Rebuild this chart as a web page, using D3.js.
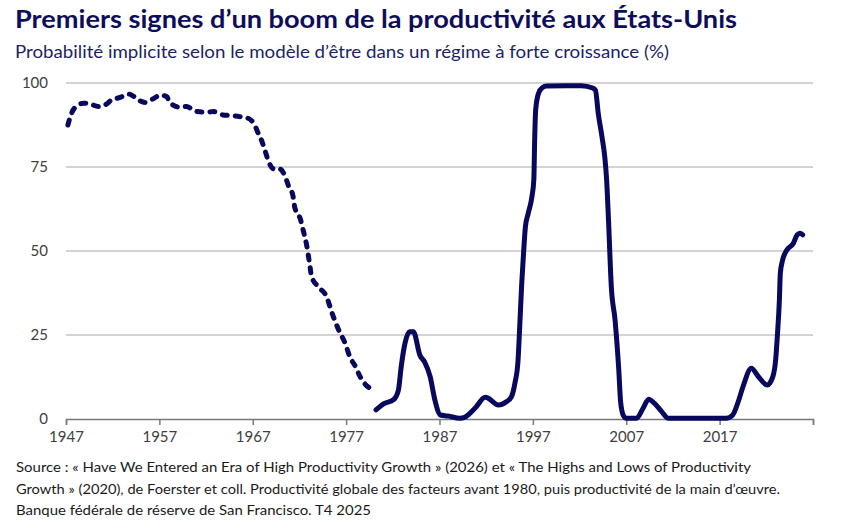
<!DOCTYPE html>
<html>
<head>
<meta charset="utf-8">
<script src="https://cdn.jsdelivr.net/npm/d3@7"></script>
<style>
  body { margin: 0; background: #fff; }
  svg { display: block; font-family: Lato, "Open Sans", sans-serif; }
</style>
</head>
<body>
<svg id="chart" width="844" height="531"></svg>
<script>
// Fractional year, probability (%)
var dashYears = [1947.2, 1947.6, 1947.9, 1948.9, 1949.6, 1950.5, 1951.2, 1951.9, 1952.8, 1953.7,
    1954.2, 1954.9, 1955.5, 1956.4, 1957.1, 1957.8, 1958.1, 1959.2, 1959.9, 1961.0,
    1962.1, 1962.8, 1963.8, 1964.7, 1965.6, 1966.5, 1967.1, 1967.6, 1968.0, 1968.3,
    1968.7, 1969.2, 1969.9, 1970.5, 1970.8, 1971.3, 1971.5, 1972.1, 1972.4, 1972.8,
    1973.1, 1973.3, 1974.0, 1974.9, 1975.5, 1976.2, 1976.9, 1977.4, 1978.0, 1978.5,
    1979.0, 1979.6];
var dashValues = [87.5, 91, 92.5, 94, 93.7, 93, 93.5, 95, 95.7, 96.7,
    96.1, 94.7, 94.2, 95.4, 96.4, 95.9, 94.2, 92.8, 93, 91.5,
    91.3, 91.5, 90.5, 90.3, 90, 89.5, 88, 85, 82.5, 80,
    76.6, 74.5, 74.4, 72, 69.6, 66.5, 63, 59.5, 56.2, 51.3,
    46, 42.4, 39.4, 36.4, 31.5, 26.5, 22.5, 18.5, 15.6, 12.6,
    10.5, 9.1];

var solidYears = [1980.2, 1981.0, 1982.1, 1982.6, 1982.9, 1983.3, 1983.8, 1984.2, 1984.9, 1985.4,
    1986.0, 1986.5, 1987.1, 1987.9, 1989.2, 1989.7, 1990.8, 1991.9, 1992.2, 1993.3,
    1994.2, 1994.7, 1995.1, 1995.4, 1995.6, 1995.8, 1996.0, 1996.2, 1996.5, 1996.9,
    1997.1, 1997.2, 1997.3, 1997.6, 1998.0, 1998.5, 2000.6, 2002.2, 2003.4, 2003.7,
    2004.0, 2004.4, 2004.7, 2004.9, 2005.1, 2005.4, 2005.8, 2006.2, 2006.4, 2006.7,
    2007.0, 2008.1, 2008.8, 2009.4, 2010.0, 2010.8, 2011.5, 2017.7, 2018.4, 2019.0,
    2019.5, 2020.4, 2021.1, 2022.1, 2022.7, 2023.0, 2023.2, 2023.4, 2023.5, 2023.7,
    2024.2, 2024.9, 2025.3, 2025.6, 2025.9];
var solidValues = [2.7, 4.5, 5.8, 8.6, 15.6, 22.5, 26, 26, 19, 17,
    12.6, 5.7, 1.2, 0.9, 0.2, 0.5, 3.2, 6.5, 6.2, 4.2,
    5.2, 6.6, 11, 17, 28, 40, 49.3, 57.2, 61.2, 66.2,
    71.1, 84, 92, 96.9, 98.6, 99.1, 99.2, 99.2, 98.5, 97.9,
    91, 84, 78, 71.1, 59.2, 39.4, 29.5, 14.6, 5, 1,
    0.2, 0.2, 3.2, 5.9, 4.7, 2.2, 0.2, 0.2, 1.2, 5.2,
    9.6, 15.1, 12.8, 10.1, 12.6, 17.6, 25.5, 35.4, 43.4, 46.8,
    50.3, 52.3, 54.8, 55.3, 54.8];

var xTickYears = [1947, 1957, 1967, 1977, 1987, 1997, 2007, 2017, 2027];
var yTicks = [0, 25, 50, 75, 100];

var titleText = "Premiers signes d\u2019un boom de la productivit\u00e9 aux \u00c9tats-Unis";
var subtitleText = "Probabilit\u00e9 implicite selon le mod\u00e8le d\u2019\u00eatre dans un r\u00e9gime \u00e0 forte croissance (%)";
var sourceLines = [
    "Source\u00a0: \u00ab\u00a0Have We Entered an Era of High Productivity Growth\u00a0\u00bb (2026) et \u00ab\u00a0The Highs and Lows of Productivity",
    "Growth\u00a0\u00bb (2020), de Foerster et coll. Productivit\u00e9 globale des facteurs avant 1980, puis productivit\u00e9 de la main d\u2019\u0153uvre.",
    "Banque f\u00e9d\u00e9rale de r\u00e9serve de San Francisco. T4 2025"
];

var navy = "#08085c";
var svg = d3.select("#chart");

var x = d3.scaleLinear().domain([1947, 2027]).range([66, 813]);
var y = d3.scaleLinear().domain([0, 100]).range([419, 83]);

// Title and subtitle
svg.append("text")
    .attr("x", 15).attr("y", 28)
    .attr("font-size", 25).attr("font-weight", "bold")
    .attr("fill", "#0d0d5a")
    .attr("textLength", 722).attr("lengthAdjust", "spacingAndGlyphs")
    .text(titleText);

svg.append("text")
    .attr("x", 15).attr("y", 58)
    .attr("font-size", 17)
    .attr("fill", "#1a1f66")
    .attr("textLength", 654).attr("lengthAdjust", "spacingAndGlyphs")
    .text(subtitleText);

// Gridlines
svg.append("g")
    .selectAll("line")
    .data(yTicks.filter(function (d) { return d > 0; }))
    .enter().append("line")
    .attr("x1", x(1947)).attr("x2", x(2027))
    .attr("y1", function (d) { return y(d); })
    .attr("y2", function (d) { return y(d); })
    .attr("stroke", "#c4c4c4")
    .attr("stroke-width", 1.5);

// Y labels
svg.append("g")
    .selectAll("text")
    .data(yTicks)
    .enter().append("text")
    .attr("x", 48)
    .attr("y", function (d) { return y(d); })
    .attr("dy", "0.35em")
    .attr("text-anchor", "end")
    .attr("font-size", 15)
    .attr("fill", "#404040")
    .text(function (d) { return d; });

// X axis
var xAxis = d3.axisBottom(x)
    .tickValues(xTickYears)
    .tickSize(6)
    .tickFormat(function (d) { return d < 2027 ? d : ""; });

var gx = svg.append("g")
    .attr("transform", "translate(0," + y(0) + ")")
    .call(xAxis);
gx.select(".domain").attr("stroke", "#7a7a7a").attr("stroke-width", 1.5);
gx.selectAll(".tick line").attr("stroke", "#7a7a7a").attr("stroke-width", 1.5);
gx.selectAll(".tick text")
    .attr("font-family", "Lato, 'Open Sans', sans-serif")
    .attr("font-size", 15)
    .attr("fill", "#404040")
    .attr("dy", "0.95em");

// Lines
var line = d3.line()
    .x(function (d) { return x(d[0]); })
    .y(function (d) { return y(d[1]); })
    .curve(d3.curveMonotoneX);

var dashData = dashYears.map(function (d, i) { return [d, dashValues[i]]; });
var solidData = solidYears.map(function (d, i) { return [d, solidValues[i]]; });

svg.append("path")
    .datum(dashData)
    .attr("d", line)
    .attr("fill", "none")
    .attr("stroke", navy)
    .attr("stroke-width", 5)
    .attr("stroke-linecap", "round")
    .attr("stroke-linejoin", "round")
    .attr("stroke-dasharray", "5,8");

svg.append("path")
    .datum(solidData)
    .attr("d", line)
    .attr("fill", "none")
    .attr("stroke", navy)
    .attr("stroke-width", 5)
    .attr("stroke-linecap", "round")
    .attr("stroke-linejoin", "round");

// Source notes
var sourceWidths = [735, 764, 355];
svg.append("g")
    .selectAll("text")
    .data(sourceLines)
    .enter().append("text")
    .attr("x", 16)
    .attr("y", function (d, i) { return 472 + i * 21.5; })
    .attr("font-size", 14)
    .attr("fill", "#1a1a1a")
    .attr("textLength", function (d, i) { return sourceWidths[i]; })
    .attr("lengthAdjust", "spacingAndGlyphs")
    .text(function (d) { return d; });
</script>
</body>
</html>
